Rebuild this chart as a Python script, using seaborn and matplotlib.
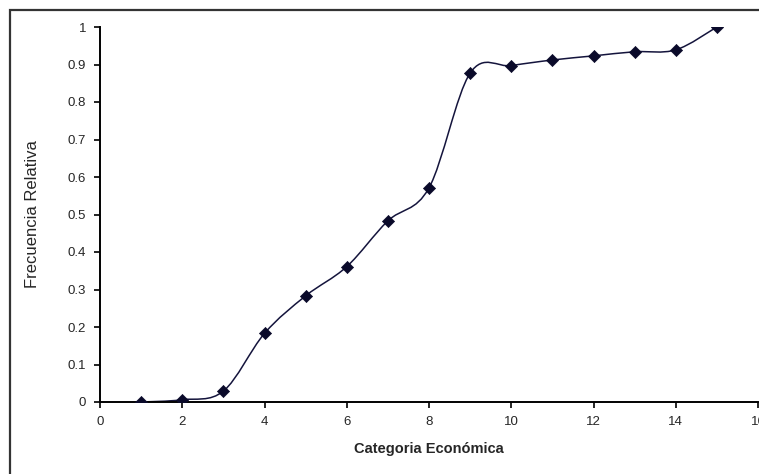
import numpy as np
import pandas as pd
import matplotlib
matplotlib.use("Agg")
import matplotlib.pyplot as plt
from matplotlib.path import Path
from matplotlib.patches import PathPatch, Rectangle
import seaborn as sns

# === Data ===
categoria = [1, 2, 3, 4, 5, 6, 7, 8, 9, 10, 11, 12, 13, 14, 15]
frecuencia = [0.0, 0.006, 0.029, 0.183, 0.283, 0.361, 0.483, 0.571,
              0.877, 0.897, 0.912, 0.923, 0.934, 0.939, 1.0]
x_ticks = [0, 2, 4, 6, 8, 10, 12, 14, 16]
y_ticks = [0, 0.1, 0.2, 0.3, 0.4, 0.5, 0.6, 0.7, 0.8, 0.9, 1]
y_tick_labels = ["0", "0.1", "0.2", "0.3", "0.4", "0.5", "0.6", "0.7", "0.8", "0.9", "1"]

df = pd.DataFrame({"categoria": categoria, "frecuencia": frecuencia})

sns.set_style("white")
plt.rcParams["font.family"] = ["Liberation Sans", "DejaVu Sans"]

fig = plt.figure(figsize=(7.59, 4.74), dpi=100)
ax = fig.add_axes([100 / 759, 1 - 402 / 474, 658 / 759, 375 / 474])

line_color = "#14143c"

# smoothed line (Excel style) as Bezier segments through the data points
xs = np.array(categoria, dtype=float)
ys = np.array(frecuencia, dtype=float)
verts = [(xs[0], ys[0])]
codes = [Path.MOVETO]
n = len(xs)
for i in range(n - 1):
    p0 = np.array([xs[max(i - 1, 0)], ys[max(i - 1, 0)]])
    p1 = np.array([xs[i], ys[i]])
    p2 = np.array([xs[i + 1], ys[i + 1]])
    p3 = np.array([xs[min(i + 2, n - 1)], ys[min(i + 2, n - 1)]])
    c1 = p1 + (p2 - p0) / 6
    c2 = p2 - (p3 - p1) / 6
    verts += [tuple(c1), tuple(c2), tuple(p2)]
    codes += [Path.CURVE4] * 3
ax.add_patch(PathPatch(Path(verts, codes), facecolor="none",
                       edgecolor=line_color, lw=1.1, zorder=2))

sns.scatterplot(data=df, x="categoria", y="frecuencia", marker="D", s=38,
                color="#0a0a2a", edgecolor="#0a0a2a", linewidth=0.5, zorder=3, ax=ax)

ax.set_xlim(0, 16)
ax.set_ylim(0, 1)
ax.set_xticks(x_ticks)
ax.set_yticks(y_ticks)
ax.set_yticklabels(y_tick_labels)
ax.tick_params(axis="both", direction="out", length=4, width=1.2, color="black",
               labelsize=9.5, pad=6, left=True, bottom=True)
for s in ["top", "right"]:
    ax.spines[s].set_visible(False)
for s in ["left", "bottom"]:
    ax.spines[s].set_color("black")
    ax.spines[s].set_linewidth(1.4)
ax.set_clip_on(False)

ax.set_ylabel("Frecuencia Relativa", fontsize=12, labelpad=20)
ax.set_xlabel("Categoria Económica", fontsize=10.5, fontweight="bold", labelpad=10)

# outer chart border (cut off on right and bottom)
fig.patches.append(Rectangle((10 / 759, -0.1), 1.2, 1 - 10 / 474 + 0.1,
                             transform=fig.transFigure, fill=False,
                             edgecolor="#333333", lw=1.6))

fig.savefig("out.png", dpi=100)
